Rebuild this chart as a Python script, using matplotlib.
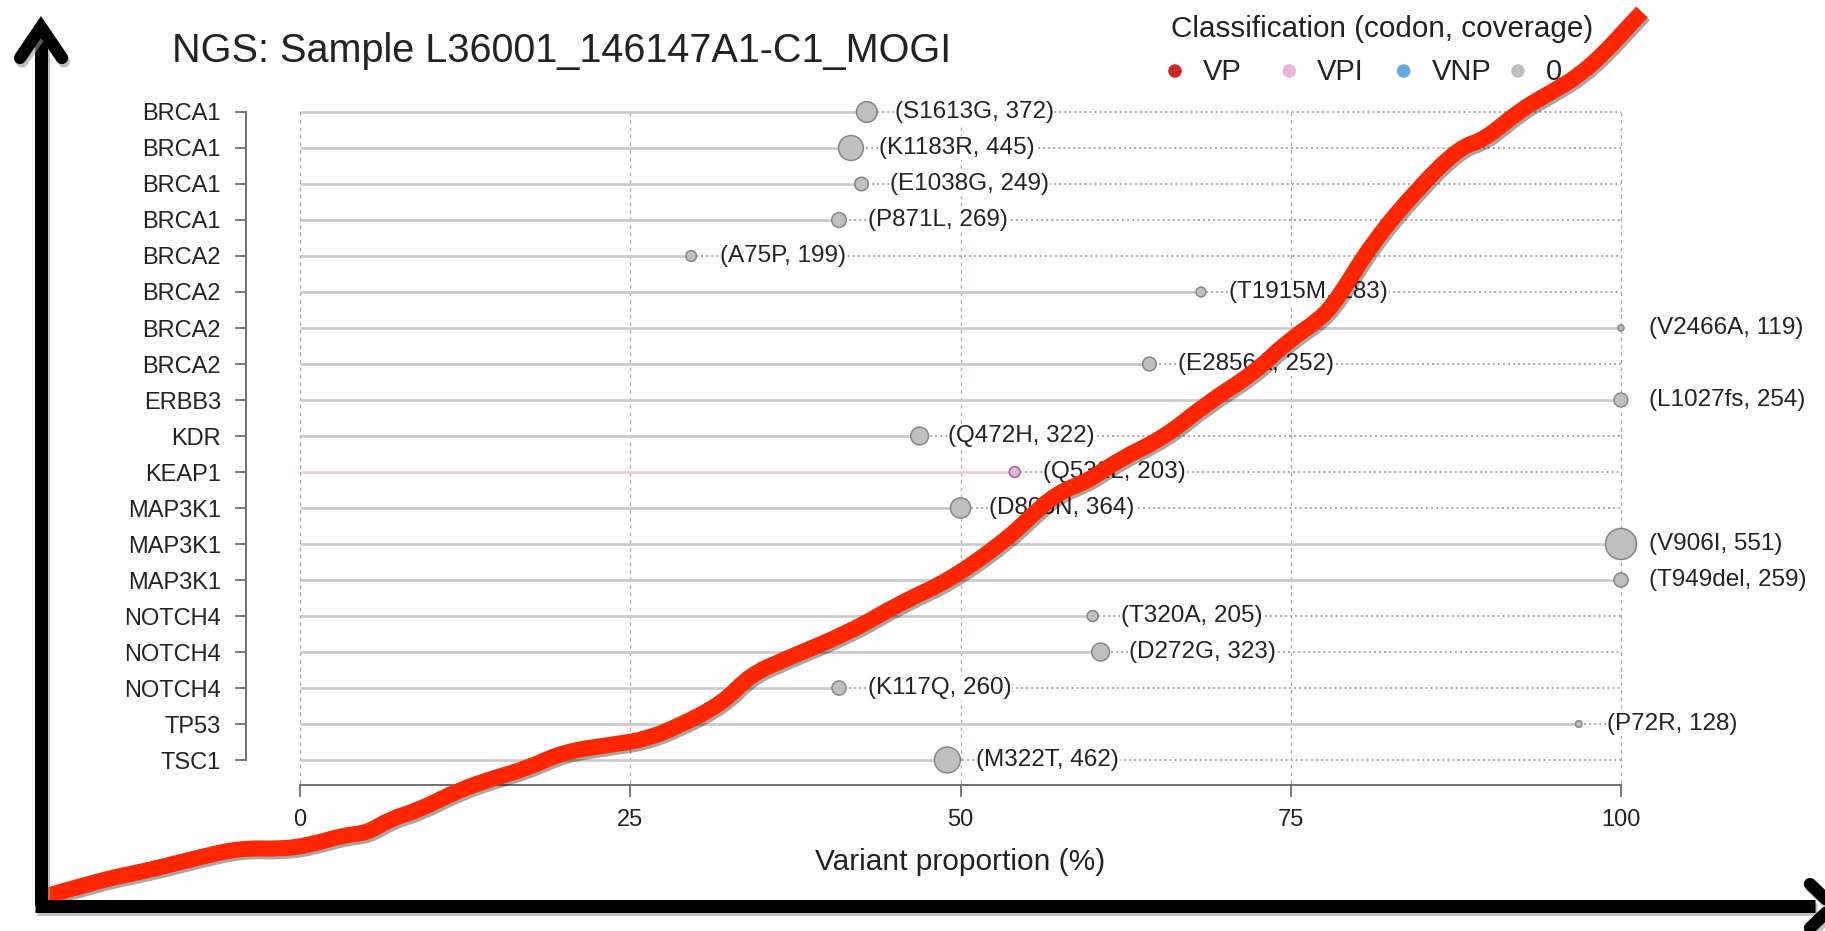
import numpy as np
import matplotlib
matplotlib.use("Agg")
import matplotlib.pyplot as plt
import matplotlib.patheffects as pe
from matplotlib.path import Path
from matplotlib.patches import PathPatch

plt.rcParams['font.family'] = ['Liberation Sans', 'DejaVu Sans']

# lollipop data, top row first
genes = ["BRCA1", "BRCA1", "BRCA1", "BRCA1", "BRCA2", "BRCA2", "BRCA2", "BRCA2",
         "ERBB3", "KDR", "KEAP1", "MAP3K1", "MAP3K1", "MAP3K1", "NOTCH4", "NOTCH4",
         "NOTCH4", "TP53", "TSC1"]
codons = ["S1613G", "K1183R", "E1038G", "P871L", "A75P", "T1915M", "V2466A", "E2856A",
          "L1027fs", "Q472H", "Q532L", "D806N", "V906I", "T949del", "T320A", "D272G",
          "K117Q", "P72R", "M322T"]
coverage = [372, 445, 249, 269, 199, 183, 119, 252, 254, 322, 203, 364, 551, 259,
            205, 323, 260, 128, 462]
proportion = [42.9, 41.7, 42.5, 40.8, 29.6, 68.2, 100, 64.3, 100, 46.9, 54.1, 50.0,
              100, 100, 60.0, 60.6, 40.8, 96.8, 49.0]
classes = ["0", "0", "0", "0", "0", "0", "0", "0", "0", "0", "VPI", "0", "0", "0",
           "0", "0", "0", "0", "0"]
x_ticks = [0, 25, 50, 75, 100]

legend_names = ["VP", "VPI", "VNP", "0"]
legend_colors = ["#c92a2a", "#ebb5da", "#62a9e2", "#bfbfbf"]

# hand drawn "stonks" line in image pixels
curve_x = [40, 100, 150, 200, 241, 281, 310, 344, 367, 390, 419, 459, 494, 528, 563,
           608, 643, 677, 723, 750, 783, 850, 900, 950, 1006, 1030, 1057, 1090, 1118,
           1165, 1207, 1254, 1289, 1319, 1337, 1372, 1419, 1460, 1484, 1520, 1550,
           1580, 1607, 1627, 1642]
curve_y = [898, 880, 870, 857, 848, 849, 845, 835, 833, 819, 810, 790, 778, 768, 752,
           745, 740, 727, 703, 675, 660, 632, 603, 580, 540, 517, 493, 480, 460,
           437, 403, 373, 340, 320, 300, 243, 187, 147, 140, 110, 93, 75, 50, 28, 12]

W, H, DPI = 1825, 931, 100
TXT = "#222222"
fig = plt.figure(figsize=(W / DPI, H / DPI), dpi=DPI)
fig.patch.set_facecolor("white")

ax = fig.add_axes([246 / W, 1 - 785 / H, (1660.6 - 246) / W, (785 - 95) / H])
ax.set_xlim(-4.1, 103)
ax.set_ylim(18.694, -0.472)

rows = np.arange(len(genes))
fill = {"0": "#bfbfbf", "VPI": "#e6b2d6", "VP": "#c92a2a", "VNP": "#62a9e2"}
edge = {"0": "#858585", "VPI": "#9a6a98", "VP": "#8a1a1a", "VNP": "#3a78b0"}
stem = {"0": "#c9c9c9", "VPI": "#f2c8dd", "VP": "#e09090", "VNP": "#a8cdea"}

ax.vlines(x_ticks, 0, 18.694, colors="#c4a19c", linewidth=0.9,
          linestyles=(0, (3, 3)), zorder=1)

for i in rows:
    c = classes[i]
    p = proportion[i]
    ax.plot([0, p], [i, i], color=stem[c], lw=1.9, solid_capstyle="butt", zorder=2)
    if p < 100:
        ax.plot([p, 100], [i, i], color="#a6a6a6", lw=1.4,
                linestyle=(0, (1, 1.6)), zorder=2)

radius_px = 3 + 0.029 * (np.array(coverage) - 119)
sizes = (2 * radius_px * 72 / DPI) ** 2
ax.scatter(proportion, rows, s=sizes,
           c=[fill[c] for c in classes], edgecolors=[edge[c] for c in classes],
           linewidths=1.1, zorder=4)

for i in rows:
    ax.annotate(f"({codons[i]}, {coverage[i]})", (proportion[i], i),
                xytext=(20.5, 0), textcoords="offset points", va="center",
                ha="left", fontsize=17.5, color=TXT, zorder=5,
                bbox=dict(boxstyle="square,pad=0.05", fc="white", ec="none"))

ax.set_yticks(rows)
ax.set_yticklabels(genes)
ax.set_xticks(x_ticks)
ax.set_xticklabels([str(t) for t in x_ticks])
ax.tick_params(axis="y", length=8, width=1.1, color="#555555", pad=10,
               labelsize=17, labelcolor=TXT)
ax.tick_params(axis="x", length=8.5, width=1.1, color="#555555", pad=9,
               labelsize=17, labelcolor=TXT)
for s in ["top", "right"]:
    ax.spines[s].set_visible(False)
ax.spines["left"].set_bounds(0, 18)
ax.spines["bottom"].set_bounds(0, 100)
for s in ["left", "bottom"]:
    ax.spines[s].set_color("#666666")
    ax.spines[s].set_linewidth(1.3)

ax.set_xlabel("Variant proportion (%)", fontsize=21.5, color=TXT)
ax.xaxis.set_label_coords((960 - 246) / 1414.6, -(862 - 785) / 690)
ax.xaxis.label.set_va("center")

fig.text(172 / W, 1 - 62 / H, "NGS: Sample L36001_146147A1-C1_MOGI",
         fontsize=28.5, color=TXT, ha="left", va="baseline")

# overlay in pixel coordinates for legend, arrows and red line
ov = fig.add_axes([0, 0, 1, 1], zorder=10)
ov.set_xlim(0, W)
ov.set_ylim(H, 0)
ov.axis("off")
ov.patch.set_alpha(0)

ov.text(1171, 37, "Classification (codon, coverage)", fontsize=21.3,
        color=TXT, ha="left", va="baseline")
for k, (name, col) in enumerate(zip(legend_names, legend_colors)):
    lx = 1175 + k * 114.3
    ov.scatter([lx], [71], s=95, color=col, edgecolors="none")
    ov.text(lx + 28, 80, name, fontsize=21, color=TXT,
            ha="left", va="baseline")

shadow = [pe.SimpleLineShadow(offset=(1.5, -2.5), shadow_color="#999999", alpha=0.6),
          pe.Normal()]
arrow_lw = 13 * 72 / DPI
ov.plot([41, 41], [905, 30], color="black", lw=arrow_lw, solid_capstyle="butt",
        path_effects=shadow)
ov.plot([20, 41, 62], [58, 27, 58], color="black", lw=arrow_lw * 0.95,
        solid_capstyle="round", solid_joinstyle="miter", path_effects=shadow)
ov.plot([35, 1815], [906, 906], color="black", lw=arrow_lw, solid_capstyle="butt",
        path_effects=shadow)
ov.plot([1810, 1833, 1810], [884, 906, 928], color="black", lw=arrow_lw * 0.95,
        solid_capstyle="round", solid_joinstyle="miter", path_effects=shadow)

# red line: read points used as quadratic control points for a smooth stroke
pts = np.column_stack([curve_x, curve_y]).astype(float)
verts = [pts[0]]
codes = [Path.MOVETO]
for j in range(1, len(pts) - 1):
    verts += [pts[j], (pts[j] + pts[j + 1]) / 2]
    codes += [Path.CURVE3, Path.CURVE3]
verts.append(pts[-1])
codes.append(Path.LINETO)
red = PathPatch(Path(verts, codes), fill=False, edgecolor="#ff2600",
                lw=16 * 72 / DPI, capstyle="butt", joinstyle="round",
                path_effects=[pe.SimpleLineShadow(offset=(1.5, -2), shadow_color="black",
                                                  alpha=0.35), pe.Normal()])
ov.add_patch(red)

fig.savefig("out.png", dpi=DPI)
